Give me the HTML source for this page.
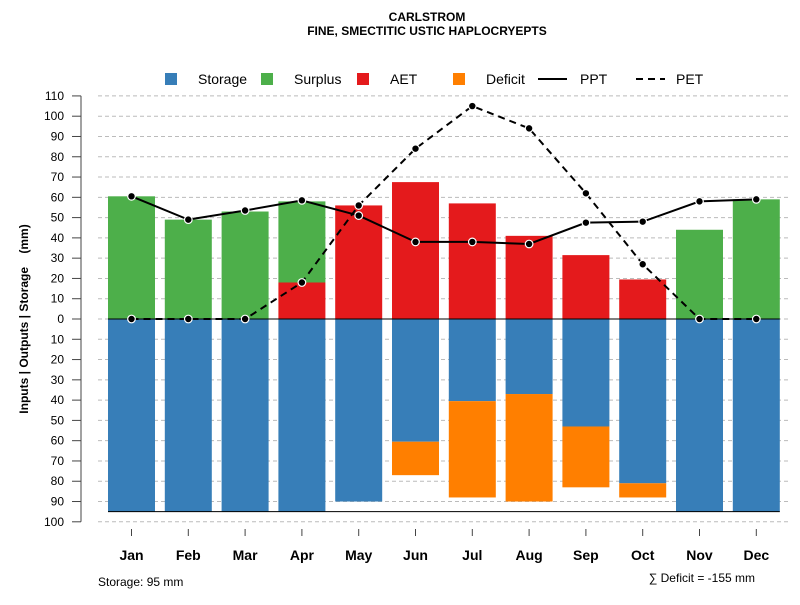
<!DOCTYPE html>
<html><head><meta charset="utf-8"><style>
body{margin:0;background:#fff}
svg text{font-family:"Liberation Sans",sans-serif;fill:#000}
</style></head><body>
<svg id="c" width="800" height="600" xmlns="http://www.w3.org/2000/svg">
<text x="427" y="21" text-anchor="middle" font-size="12" font-weight="bold">CARLSTROM</text>
<text x="427" y="35" text-anchor="middle" font-size="12" font-weight="bold">FINE, SMECTITIC USTIC HAPLOCRYEPTS</text>
<g id="legend" font-size="14">
<rect x="165" y="73" width="12" height="12" fill="#377eb8"/>
<text x="198" y="84">Storage</text>
<rect x="261" y="73" width="12" height="12" fill="#4daf4a"/>
<text x="294" y="84">Surplus</text>
<rect x="357" y="73" width="12" height="12" fill="#e41a1c"/>
<text x="390" y="84">AET</text>
<rect x="453" y="73" width="12" height="12" fill="#ff7f00"/>
<text x="486" y="84">Deficit</text>
<line x1="538" y1="79" x2="567" y2="79" stroke="#000" stroke-width="2"/>
<text x="580" y="84">PPT</text>
<line x1="636" y1="79" x2="665" y2="79" stroke="#000" stroke-width="2" stroke-dasharray="7,5"/>
<text x="676" y="84">PET</text>
</g>
<text transform="translate(28,319) rotate(-90)" text-anchor="middle" font-size="12" font-weight="bold">Inputs | Outputs | Storage&#160;&#160;&#160;&#160;(mm)</text>
<text x="98" y="586" font-size="12">Storage: 95 mm</text>
<text x="755" y="582" text-anchor="end" font-size="12">∑ Deficit = -155 mm</text>
<g id="plot"></g>
</svg>
<script>
const months=["Jan","Feb","Mar","Apr","May","Jun","Jul","Aug","Sep","Oct","Nov","Dec"];
const ppt=[60.5,49,53.5,58.5,51,38,38,37,47.5,48,58,59];
const pet=[0,0,0,18,56,84,105,94,62,27,0,0];
const aet=[0,0,0,18,56,67.5,57,41,31.5,19.5,0,0];
const surplus=[60.5,49,53,40,0,0,0,0,0,0,44,59];
const storage=[95,95,95,95,90,60.5,40.5,37,53,81,95,95];
const deficit=[0,0,0,0,0,16.5,47.5,53,30,7,0,0];
const yTicksUp=[0,10,20,30,40,50,60,70,80,90,100,110];
const yTicksDown=[10,20,30,40,50,60,70,80,90,100];
const storageCap=95;
const NS="http://www.w3.org/2000/svg";
const g=document.getElementById("plot");
const y=v=>319-v*2.028;
const x=i=>131.5+i*56.8;
const bw=47;
function el(t,a){const e=document.createElementNS(NS,t);for(const k in a)e.setAttribute(k,a[k]);g.appendChild(e);return e;}
yTicksUp.concat(yTicksDown.map(v=>-v)).forEach(v=>{
 const l=el("line",{x1:98,x2:790,y1:y(v),y2:y(v),stroke:"#bbb","stroke-dasharray":"4,3"});
 
 
 const t=el("line",{x1:72,x2:81,y1:y(v),y2:y(v),stroke:"#444"});
 
 
 const tx=el("text",{x:64,y:y(v)+4,"text-anchor":"end","font-size":12});
 tx.textContent=Math.abs(v);
 
 
});
const ax=el("line",{x1:81,x2:81,y1:y(110),y2:y(-100),stroke:"#444"});


function bar(i,v0,v1,c,name){
 const r=el("rect",{x:x(i)-bw/2,y:Math.min(y(v0),y(v1)),width:bw,height:Math.abs(y(v0)-y(v1)),fill:c});
 
 
}
months.forEach((m,i)=>{
 if(surplus[i]>0)bar(i,aet[i],aet[i]+surplus[i],"#4daf4a","bar-surplus-"+m.toLowerCase());
 if(aet[i]>0)bar(i,0,aet[i],"#e41a1c","bar-aet-"+m.toLowerCase());
 bar(i,0,-storage[i],"#377eb8","bar-storage-"+m.toLowerCase());
 if(deficit[i]>0)bar(i,-storage[i],-storage[i]-deficit[i],"#ff7f00","bar-deficit-"+m.toLowerCase());
 const tk=el("line",{x1:x(i),x2:x(i),y1:529,y2:536,stroke:"#444"});
 
 
 const t=el("text",{x:x(i),y:560,"text-anchor":"middle","font-size":14,"font-weight":"bold"});
 t.textContent=m;
 
 
});
const z=el("line",{x1:x(0)-bw/2,x2:x(11)+bw/2,y1:y(0),y2:y(0),stroke:"#000"});


const sb=el("line",{x1:x(0)-bw/2,x2:x(11)+bw/2,y1:y(-storageCap),y2:y(-storageCap),stroke:"#000"});


function series(arr,dash,name){
 const p=el("polyline",{points:arr.map((v,i)=>x(i)+","+y(v)).join(" "),fill:"none",stroke:"#000","stroke-width":2,"stroke-dasharray":dash});
 
 
 arr.forEach((v,i)=>{
  const c=el("circle",{cx:x(i),cy:y(v),r:3.8,fill:"#000",stroke:"#fff","stroke-width":1.2});
  
  
 });
}
series(pet,"7,5","pet");
series(ppt,"none","ppt");
</script>
</body></html>
